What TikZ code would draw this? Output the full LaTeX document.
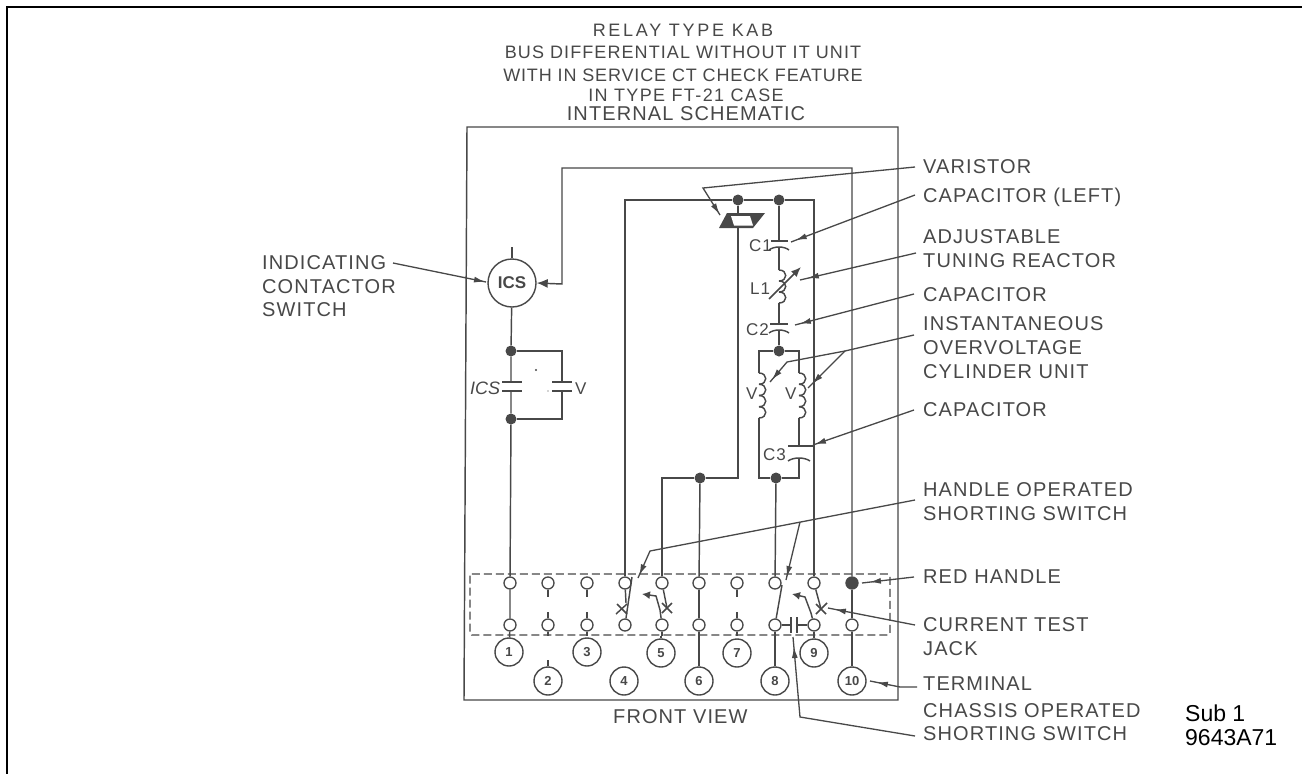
\documentclass[tikz,border=0pt]{standalone}
\usepackage{fontspec}
\usetikzlibrary{arrows.meta,decorations.markings,calc}
\setmainfont{Liberation Sans}
\newfontfamily\labfont[LetterSpace=5.5]{Liberation Sans}
\newfontfamily\ttlfont{Liberation Sans}
\definecolor{ink}{HTML}{484848}
\tikzset{
  wire/.style={draw=ink,line width=1.45pt},
  lead/.style={draw=ink,line width=1.3pt},
  barb/.style={postaction={decorate},decoration={markings,mark=at position #1 with {\arrow[ink]{Latex[length=11pt,width=6pt]}}}},
  term/.style={circle,draw=ink,line width=1.3pt,fill=white,minimum size=12pt,inner sep=0pt},
  num/.style={circle,draw=ink,line width=1.4pt,fill=white,minimum size=28pt,inner sep=0pt,font=\fontsize{13}{13}\selectfont\bfseries,text=ink},
  jdot/.style={circle,fill=ink,minimum size=11pt,inner sep=0pt},
  lab/.style={anchor=base west,inner sep=0pt,text=ink,font=\fontsize{20}{20}\labfont},
  small/.style={anchor=base west,inner sep=0pt,text=ink,font=\fontsize{17}{17}\labfont},
  ttl/.style={anchor=base,inner sep=0pt,text=ink,font=\fontsize{18}{18}\ttlfont}
}
\newcommand\coilv[4]{% x, ytop, bump height, count
  \foreach \k in {1,...,#4}{
    \pgfmathsetmacro\ya{#2+(\k-1)*#3}
    \pgfmathsetmacro\yb{#2+\k*#3}
    \draw[wire] (#1,\ya) .. controls (#1+9,\ya) and (#1+9,\yb) .. (#1,\yb);
  }
}
\newcommand\curveplate[3]{% xc, y, half width
  \draw[wire] (#1-#3,#2+3) .. controls (#1-#3/2,#2-1) and (#1+#3/2,#2-1) .. (#1+#3,#2+3);
}
\begin{document}
\begin{tikzpicture}[x=1pt,y=-1pt]
\useasboundingbox (0,0) rectangle (1302,774);
\fill[white] (0,0) rectangle (1302,774);
% page frame
\draw[black,line width=2pt] (7,774) -- (7,7) -- (1302,7);
% case
\draw[wire] (467,127) -- (464,700) -- (898,700) -- (898,127) -- cycle;
% dashed shorting box
\draw[ink,line width=1.2pt,dash pattern=on 8pt off 4pt,rounded corners=1.5pt] (470,574) rectangle (890,635);
% terminals
\foreach \n/\x in {1/510,2/548,3/587,4/625,5/662,6/699,7/737,8/775,9/814}{
  \node[term] (t\n u) at (\x,583) {};
  \node[term] (t\n l) at (\x,625) {};
}
\node[term,fill=ink] (t10u) at (852,583) {};
\node[term] (t10l) at (852,625) {};
\foreach \n/\x/\y in {1/509/652,2/548/681,3/587/652,4/624/681,5/661/653,6/699/681,7/737/653,8/775/681,9/814/653,10/852/681}{
  \node[num] (n\n) at (\x,\y) {\n};
}
% ICS
\node[circle,draw=ink,line width=1.4pt,minimum size=48pt,inner sep=0pt,font=\fontsize{17}{17}\selectfont\bfseries,text=ink] (ics) at (512,283) {ICS};
\coordinate (icstop) at (512,247);
\draw[wire] (icstop) -- (ics);
\node[jdot] (ja) at (511,351) {};
\node[jdot] (jb) at (511,419) {};
\coordinate (capa) at (511,382); \coordinate (capb) at (511,391);
\coordinate (vra) at (562,351); \coordinate (vrb) at (562,419);
\coordinate (vca) at (562,382); \coordinate (vcb) at (562,391);
\draw[wire] (ics) -- (ja) -- (capa);
\draw[wire] (capb) -- (jb) -- (t1u);
\draw[wire] (ja) -- (vra) -- (vca);
\draw[wire] (vcb) -- (vrb) -- (jb);
\draw[wire] (502,382) -- (522,382) (502,391) -- (522,391);
\draw[wire] (552,382) -- (572,382) (552,391) -- (572,391);
\node[small,font=\fontsize{18}{18}\selectfont\itshape] (icscap) at (470,394) {ICS};
\node[small] (vcap) at (575,394) {V};
\fill[ink] (536,370) circle (1.2pt) (548,391) circle (.6pt);
% long wire ICS -> terminal 10
\coordinate (wa) at (562,284); \coordinate (wb) at (562,168); \coordinate (wc) at (852,168);
\draw[wire,-{Latex[length=11pt,width=9pt]}] (t10u) -- (wc) -- (wb) -- (wa) -- (ics.east);
\draw[wire] (t10u) -- (t10l) -- (n10);
% upper bus
\node[jdot] (jv) at (738,200) {};
\node[jdot] (jc) at (779,200) {};
\coordinate (bl) at (625,200); \coordinate (br) at (814,200);
\draw[wire] (t4u) -- (bl) -- (jv) -- (jc) -- (br) -- (t9u);
% varistor
\fill[ink] (727,213) -- (765,213) -- (753,228) -- (719,228) -- cycle;
\fill[white] (731,216) -- (750,216) -- (753,225.5) -- (734,225.5) -- cycle;
\coordinate (vtop) at (738,213); \coordinate (vbot) at (738,228);
\coordinate (vdn) at (738,478);
\node[jdot] (j6) at (700,478) {};
\coordinate (l5) at (662,478);
\draw[wire] (jv) -- (vtop);
\draw[wire] (vbot) -- (vdn) -- (j6) -- (l5) -- (t5u);
\draw[wire] (j6) -- (t6u);
% series branch
\coordinate (c1a) at (779,241); \coordinate (c1b) at (779,247);
\coordinate (l1a) at (779,270); \coordinate (l1b) at (779,303);
\coordinate (c2a) at (779,324); \coordinate (c2b) at (779,330);
\node[jdot] (jm) at (779,351) {};
\draw[wire] (jc) -- (c1a);
\draw[wire] (771,241) -- (788,241);
\curveplate{779}{247}{10}
\draw[wire] (c1b) -- (l1a);
\coilv{779}{270}{11}{3}
\draw[wire] (l1b) -- (c2a);
\draw[wire] (770,324) -- (788,324);
\curveplate{779}{330}{10}
\draw[wire] (c2b) -- (jm);
\draw[wire,-{Latex[length=10pt,width=8pt]}] (769,299) -- (801,267);
% V coils & C3
\coordinate (lt) at (759,351); \coordinate (rt) at (799,351);
\coordinate (lc) at (759,373); \coordinate (rc) at (799,373);
\coordinate (ld) at (759,418); \coordinate (rd) at (799,418);
\coordinate (lb) at (759,478); \coordinate (rb) at (799,478);
\coordinate (c3a) at (799,446); \coordinate (c3b) at (799,458);
\node[jdot] (j8) at (776,478) {};
\draw[wire] (lc) -- (lt) -- (jm) -- (rt) -- (rc);
\coilv{759}{373}{11.25}{4}
\coilv{799}{373}{11.25}{4}
\draw[wire] (ld) -- (lb) -- (j8) -- (rb) -- (c3b);
\draw[wire] (rd) -- (c3a);
\draw[wire] (788,446) -- (815,446);
\curveplate{799}{458}{11}
\draw[wire] (j8) -- (t8u);
% terminal links
\draw[wire] (t1u) -- (t1l) -- (n1);
\draw[wire] (t6u) -- (t6l) -- (n6);
\draw[wire] (t8l) -- (n8);
\draw[wire] (t9l) -- (n9);
% broken terminals
\foreach \n/\x in {2/548,3/587,7/737}{
  \coordinate (s\n a) at (\x,597); \coordinate (s\n b) at (\x,612); \coordinate (s\n c) at (\x,636);
  \draw[wire] (t\n u) -- (s\n a);
  \draw[wire] (s\n b) -- (t\n l) -- (s\n c);
}
\coordinate (s5c) at (662,636);\draw[wire] (t5l) -- (s5c);
\coordinate (s2d) at (548,660);\draw[wire] (n2) -- (s2d);
\coordinate (s5d) at (661,636);\draw[wire] (n5) -- (s5d);
% switch 4
\coordinate (b4) at (632,577);
\draw[wire] (b4) -- (t4l);
\coordinate (x4) at (622,609);
\draw[wire] (t4u) -- (626,603);
\draw[wire] (x4)+(-5,-5) -- +(5,5) (x4)+(-6,5) -- +(5,-5);
% switch 5
\coordinate (x5) at (667,608);
\draw[wire] (t5u) -- (x5);
\draw[wire] (x5)+(-5,-5) -- +(5,5) (x5)+(-5,5) -- +(5,-5);
\draw[wire,{Latex[length=8pt,width=8pt]}-] (642,594) -- (656,596) -- (660,610) -- (t5l);
% switch 8
\coordinate (b8) at (782,585);
\draw[wire] (b8) -- (t8l);
% switch 9
\coordinate (x9) at (821,609);
\draw[wire] (t9u) -- (x9);
\draw[wire] (x9)+(-5,-5) -- +(5,5) (x9)+(-5,5) -- +(6,-6);
\draw[wire,{Latex[length=8pt,width=8pt]}-] (792,594) -- (805,597) -- (811,613) -- (t9l);
% chassis capacitor
\coordinate (cha) at (791,625); \coordinate (chb) at (797,625);
\draw[wire] (t8l) -- (cha);
\draw[wire] (chb) -- (t9l);
\draw[wire] (791,617) -- (791,633) (797,617) -- (797,633);
% labels right
\node[lab] (lvar) at (923,173) {VARISTOR};
\node[lab] (lcl) at (923,202) {CAPACITOR (LEFT)};
\node[lab] (ladj) at (923,243) {ADJUSTABLE};
\node[lab] (ltun) at (923,267) {TUNING REACTOR};
\node[lab] (lc2) at (923,301) {CAPACITOR};
\node[lab] (lins) at (923,330) {INSTANTANEOUS};
\node[lab] (lov) at (923,354) {OVERVOLTAGE};
\node[lab] (lcy) at (923,378) {CYLINDER UNIT};
\node[lab] (lc3) at (923,416) {CAPACITOR};
\node[lab] (lhan) at (923,496) {HANDLE OPERATED};
\node[lab] (lsho) at (923,520) {SHORTING SWITCH};
\node[lab] (lred) at (923,583) {RED HANDLE};
\node[lab] (lcur) at (923,631) {CURRENT TEST};
\node[lab] (ljac) at (923,655) {JACK};
\node[lab] (lter) at (923,690) {TERMINAL};
\node[lab] (lcha) at (923,717) {CHASSIS OPERATED};
\node[lab] (lsh2) at (923,740) {SHORTING SWITCH};
\node[lab] (lind) at (262,269) {INDICATING};
\node[lab] (lcon) at (262,293) {CONTACTOR};
\node[lab] (lswi) at (262,316) {SWITCH};
\node[lab] (lfro) at (613,723) {FRONT VIEW};
\node[small] (lC1) at (749,251) {C1};
\node[small] (lL1) at (750,294) {L1};
\node[small] (lC2) at (746,335) {C2};
\node[small] (lV1) at (746,399) {V};
\node[small] (lV2) at (785,399) {V};
\node[small] (lC3) at (763,460) {C3};
% title
\node[ttl] (t1) at (683,36) {\addfontfeature{LetterSpace=15}RELAY TYPE KAB};
\node[ttl] (t2) at (683,58) {\addfontfeature{LetterSpace=6}BUS DIFFERENTIAL WITHOUT IT UNIT};
\node[ttl] (t3) at (683,81) {\addfontfeature{LetterSpace=4.7}WITH IN SERVICE CT CHECK FEATURE};
\node[ttl] (t4) at (686,101) {\addfontfeature{LetterSpace=7.7}IN TYPE FT-21 CASE};
\node[anchor=base,inner sep=0pt,text=ink,font=\fontsize{20}{20}\labfont] (t5) at (686,120) {INTERNAL SCHEMATIC};
% sub
\node[anchor=base west,inner sep=0pt,text=black,font=\fontsize{23}{23}\selectfont] (sub) at (1185,721) {Sub 1};
\node[anchor=base west,inner sep=0pt,text=black,font=\fontsize{23}{23}\selectfont] (dwg) at (1185,745) {9643A71};
% leaders
\coordinate (a1) at (915,167); \coordinate (a1b) at (703,188); \coordinate (a1c) at (720,215);
\draw[lead,barb=-1pt] (a1) -- (a1b) -- (a1c);
\coordinate (a2) at (915,195); \coordinate (a2c) at (791,242);
\draw[lead,barb=-5pt] (a2) -- (a2c);
\coordinate (a3) at (916,253); \coordinate (a3c) at (800,280);
\draw[lead,barb=-8pt] (a3) -- (a3c);
\coordinate (a4) at (914,294); \coordinate (a4c) at (795,325);
\draw[lead,barb=-5pt] (a4) -- (a4c);
\coordinate (a5) at (914,335); \coordinate (a5b) at (845,351); \coordinate (a5c) at (787,362); \coordinate (a5d) at (770,382); \coordinate (a5e) at (808,388);
\draw[lead,barb=-3pt] (a5) -- (a5b) -- (a5c) -- (a5d);
\draw[lead,barb=-6pt] (a5b) -- (a5e);
\coordinate (a6) at (914,410); \coordinate (a6c) at (813,445);
\draw[lead,barb=-2pt] (a6) -- (a6c);
\coordinate (a7) at (915,500); \coordinate (a7b) at (650,551); \coordinate (a7c) at (638,578); \coordinate (a7j) at (800,522); \coordinate (a7d) at (786,580);
\draw[lead,barb=-3pt] (a7) -- (a7b) -- (a7c);
\draw[lead,barb=-3pt] (a7j) -- (a7d);
\coordinate (a8) at (914,577); \coordinate (a8c) at (862,583);
\draw[lead,barb=-8pt] (a8) -- (a8c);
\coordinate (a9) at (915,625); \coordinate (a9c) at (828,608);
\draw[lead,barb=-7pt] (a9) -- (a9c);
\coordinate (a10) at (917,687); \coordinate (a10b) at (900,687); \coordinate (a10c) at (870,681);
\draw[lead,barb=-7pt] (a10) -- (a10b) -- (a10c);
\coordinate (a11) at (915,736); \coordinate (a11b) at (800,717); \coordinate (a11c) at (793,637);
\draw[lead,barb=-10pt] (a11) -- (a11b) -- (a11c);
\coordinate (a12) at (393,263); \coordinate (a12c) at (486,282);
\draw[lead,barb=-1pt] (a12) -- (a12c);
\end{tikzpicture}
\end{document}
